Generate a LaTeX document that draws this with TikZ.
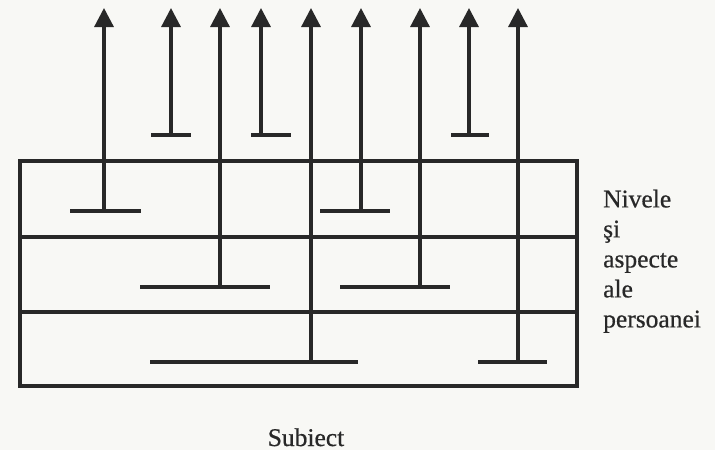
\documentclass[tikz,border=0pt]{standalone}
\usepackage{fontspec}
\setmainfont{Liberation Serif}
\newfontfamily\lblfont{Liberation Serif}[FakeBold=0.6]
\usetikzlibrary{arrows.meta}
\definecolor{ink}{RGB}{40,40,40}
\definecolor{paper}{RGB}{248,248,245}
\tikzset{
  ln/.style={draw=ink, line width=3.2pt},
  arr/.style={ln, -{Triangle[width=19pt,length=19pt]}},
  lbl/.style={text=ink, inner sep=0pt, font=\lblfont\fontsize{25.5}{30}\selectfont}
}
\begin{document}
\begin{tikzpicture}[x=1pt,y=-1pt]
\fill[paper] (0,0) rectangle (715,450);
\useasboundingbox (0,0) rectangle (715,450);
% frame and rows
\draw[ln] (20,161) rectangle (577,386);
\coordinate (r1l) at (20,237); \coordinate (r1r) at (577,237);
\coordinate (r2l) at (20,312); \coordinate (r2r) at (577,312);
\draw[ln] (r1l) -- (r1r);
\draw[ln] (r2l) -- (r2r);
% arrows: name, x, bar y, bar left, bar right
\foreach \n/\x/\y/\a/\b in {1/104/211/70/141, 2/171/135/151/191, 3/220/287/140/270,
  4/261/135/251/291, 5/311/362/150/358, 6/361/211/320/390, 7/420/287/340/450,
  8/469/135/451/489, 9/518/362/478/547}{
  \coordinate (b\n) at (\x,\y);
  \coordinate (t\n) at (\x,8);
  \coordinate (bl\n) at (\a,\y);
  \coordinate (br\n) at (\b,\y);
  \draw[ln] (bl\n) -- (br\n);
  \draw[arr] (b\n) -- (t\n);
}
\node[lbl, anchor=north west, align=left] (niv) at (603,189.5) {Nivele\\şi\\aspecte\\ale\\persoanei};
\node[lbl, anchor=base] (subj) at (306,446) {Subiect};
\end{tikzpicture}
\end{document}
